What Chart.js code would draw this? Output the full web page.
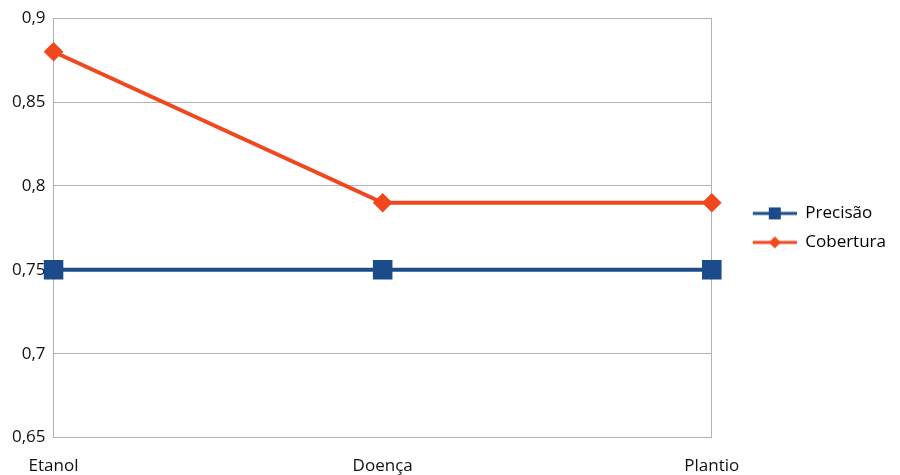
<!DOCTYPE html>
<html>
<head>
<meta charset="utf-8">
<script src="https://cdn.jsdelivr.net/npm/chart.js@4"></script>
<style>
  html, body { margin: 0; padding: 0; background: #fff; }
  #wrap { width: 900px; height: 475px; }
</style>
</head>
<body>
<div id="wrap"><canvas id="chart"></canvas></div>
<script>
const categories = ['Etanol', 'Doença', 'Plantio'];
const precisao = [0.75, 0.75, 0.75];
const cobertura = [0.88, 0.79, 0.79];
const yTicks = [0.65, 0.7, 0.75, 0.8, 0.85, 0.9];

const blue = '#1b4b8a';
const orange = '#f0471e';
const gridColor = '#b3b3b3';

// line+marker images for the legend, with a blank gap on the left
const iconGap = 29;
function legendIcon(color, shape) {
    const c = document.createElement('canvas');
    c.width = iconGap + 44; c.height = 16;
    const g = c.getContext('2d');
    g.strokeStyle = color;
    g.lineWidth = 3;
    g.beginPath(); g.moveTo(iconGap, 8); g.lineTo(iconGap + 44, 8); g.stroke();
    g.fillStyle = color;
    g.beginPath();
    const m = iconGap + 22;
    if (shape === 'square') {
        g.rect(m - 6, 2, 12, 12);
    } else {
        g.moveTo(m, 2); g.lineTo(m + 6, 8); g.lineTo(m, 14); g.lineTo(m - 6, 8); g.closePath();
    }
    g.fill();
    return c;
}
const icons = [legendIcon(blue, 'square'), legendIcon(orange, 'diamond')];

Chart.defaults.font.family = '"Open Sans", "DejaVu Sans", sans-serif';
Chart.defaults.font.size = 17;
Chart.defaults.color = '#111';

new Chart(document.getElementById('chart'), {
    type: 'line',
    data: {
        labels: categories,
        datasets: [{
            label: 'Precisão',
            data: precisao,
            borderColor: blue,
            backgroundColor: blue,
            borderWidth: 4,
            pointStyle: 'rect',
            pointRadius: 11,
            pointHoverRadius: 11,
            tension: 0
        }, {
            label: 'Cobertura',
            data: cobertura,
            borderColor: orange,
            backgroundColor: orange,
            borderWidth: 4,
            pointStyle: 'rectRot',
            pointRadius: 7,
            pointHoverRadius: 7,
            tension: 0
        }]
    },
    options: {
        responsive: true,
        maintainAspectRatio: false,
        animation: false,
        layout: {
            padding: { top: 8, right: 4, bottom: -19, left: 4 }
        },
        plugins: {
            tooltip: { enabled: false },
            legend: {
                position: 'right',
                fullSize: false,
                labels: {
                    usePointStyle: true,
                    pointStyleWidth: iconGap + 44,
                    boxHeight: 16,
                    padding: 12,
                    generateLabels: function (chart) {
                        return chart.data.datasets.map(function (ds, i) {
                            return {
                                text: ds.label,
                                pointStyle: icons[i],
                                fillStyle: ds.borderColor,
                                strokeStyle: ds.borderColor,
                                lineWidth: 0,
                                datasetIndex: i,
                                hidden: false
                            };
                        });
                    }
                }
            }
        },
        scales: {
            x: {
                offset: false,
                grid: {
                    color: function (ctx) {
                        return ctx.index === 1 ? 'rgba(0,0,0,0)' : gridColor;
                    },
                    drawTicks: false
                },
                border: { color: gridColor },
                ticks: { padding: 18, maxRotation: 0 }
            },
            y: {
                min: 0.65,
                max: 0.9,
                afterBuildTicks: function (axis) {
                    axis.ticks = yTicks.map(function (v) { return { value: v }; });
                },
                grid: { color: gridColor, drawTicks: false },
                border: { color: gridColor },
                ticks: {
                    padding: 8,
                    callback: function (v) {
                        return String(Math.round(v * 100) / 100).replace('.', ',');
                    }
                }
            }
        }
    }
});
</script>
</body>
</html>
